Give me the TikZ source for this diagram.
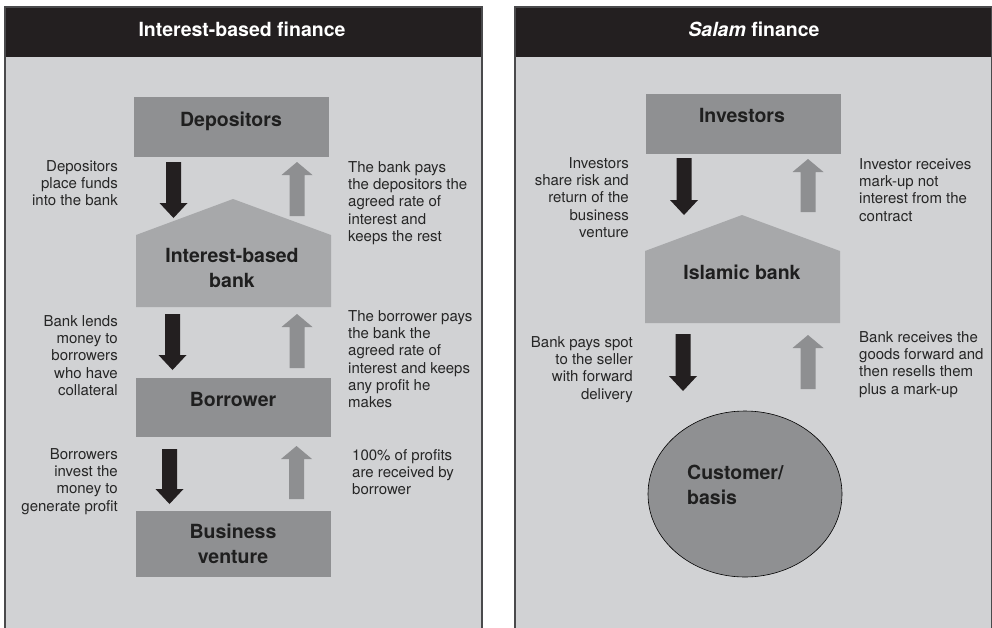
\documentclass[tikz,border=0pt]{standalone}
\usepackage{fontspec}
\setmainfont{TeX Gyre Heros}
\usetikzlibrary{shapes.geometric}
\definecolor{panelbg}{HTML}{D1D2D4}
\definecolor{headblk}{HTML}{231F20}
\definecolor{boxgray}{HTML}{8F9092}
\definecolor{bankgray}{HTML}{A7A8AA}
\definecolor{upgray}{HTML}{8E8F91}
\definecolor{frameline}{HTML}{4A4A4C}
\newcommand\dnarr[3]{\fill[headblk] (#1-7.5,#2) -- (#1+7.5,#2) -- (#1+7.5,#3-15) -- (#1+14,#3-15) -- (#1,#3) -- (#1-14,#3-15) -- (#1-7.5,#3-15) -- cycle;}
\newcommand\uparr[3]{\fill[upgray] (#1-7.5,#3) -- (#1+7.5,#3) -- (#1+7.5,#2+13) -- (#1+15.5,#2+13) -- (#1,#2) -- (#1-15.5,#2+13) -- (#1-7.5,#2+13) -- cycle;}
\tikzset{
  body/.style={font=\fontsize{15}{17.3}\selectfont, inner sep=0pt, text=black!85},
  lefttxt/.style={body, align=right, anchor=north east},
  righttxt/.style={body, align=left, anchor=north west},
  lbl/.style={font=\fontsize{19.5}{25}\selectfont\bfseries, inner sep=0pt, text=black!88},
  boxn/.style={fill=boxgray, inner sep=0pt, minimum width=195pt},
  headtxt/.style={font=\fontsize{19.5}{24}\selectfont\bfseries, text=white, inner sep=0pt, anchor=base},
}
\begin{document}
\begin{tikzpicture}[x=1pt,y=-1pt]
\useasboundingbox (0,0) rectangle (992,627);
\fill[white] (0,0) rectangle (992,627);
% panels
\fill[panelbg] (5,7) rectangle (482,640);
\fill[headblk] (5,7) rectangle (482,57);
\draw[frameline, line width=1.5pt] (5,640) -- (5,7) -- (482,7) -- (482,640);
\fill[panelbg] (515,7) rectangle (992,640);
\fill[headblk] (515,7) rectangle (992,57);
\draw[frameline, line width=1.5pt] (515,640) -- (515,7) -- (991.5,7) -- (991.5,640);
\node[headtxt] (h1) at (242,36) {Interest-based finance};
\node[headtxt] (h2) at (754,36) {\textit{Salam} finance};
% left column
\node[boxn, minimum height=60pt] (dep) at (231.5,127) {};
\node[lbl, anchor=base] (depl) at (231,126) {Depositors};
\fill[bankgray] (233,199) -- (331,235) -- (331,307) -- (136,307) -- (136,235) -- cycle;
\coordinate (bank) at (233,260);
\node[lbl, align=center, anchor=north] (bankl) at (232,248) {Interest-based\\bank};
\node[boxn, minimum height=59pt] (bor) at (233.5,407.5) {};
\node[lbl, anchor=base] (borl) at (233,406) {Borrower};
\node[boxn, minimum height=66pt] (bus) at (233.5,544) {};
\node[lbl, align=center, anchor=north] (busl) at (233,524) {Business\\venture};
\dnarr{173.5}{162}{218}
\uparr{297}{162}{216}
\dnarr{172.5}{314}{370}
\uparr{297}{314}{368}
\dnarr{169.5}{449}{504}
\uparr{296.5}{446}{499}
\node[lefttxt] (t1) at (118,160) {Depositors\\place funds\\into the bank};
\node[righttxt] (t2) at (348,161) {The bank pays\\the depositors the\\agreed rate of\\interest and\\keeps the rest};
\node[lefttxt] (t3) at (118,315) {Bank lends\\money to\\borrowers\\who have\\collateral};
\node[righttxt] (t4) at (348,310) {The borrower pays\\the bank the\\agreed rate of\\interest and keeps\\any profit he\\makes};
\node[lefttxt] (t5) at (118,448) {Borrowers\\invest the\\money to\\generate profit};
\node[righttxt] (t6) at (352,449) {100\% of profits\\are received by\\borrower};
% right column
\node[boxn, minimum height=60pt] (inv) at (743.5,124) {};
\node[lbl, anchor=base] (invl) at (742,122) {Investors};
\fill[bankgray] (742,215) -- (840,251) -- (840,323) -- (645,323) -- (645,251) -- cycle;
\node[lbl, anchor=base] (isl) at (742,279) {Islamic bank};
\node[ellipse, draw=black, line width=0.6pt, fill=boxgray, minimum width=194pt, minimum height=166pt, inner sep=0pt] (cust) at (745,494) {};
\node[lbl, align=left, anchor=north west] (custl) at (687,465) {Customer/\\basis};
\dnarr{684}{158}{215}
\uparr{808}{159}{212}
\dnarr{683}{334}{391}
\uparr{808}{335}{389}
\node[lefttxt] (t7) at (629,157) {Investors\\share risk and\\return of the\\business\\venture};
\node[righttxt] (t8) at (859,158) {Investor receives\\mark-up not\\interest from the\\contract};
\node[lefttxt] (t9) at (633,336) {Bank pays spot\\to the seller\\with forward\\delivery};
\node[righttxt] (t10) at (859,331) {Bank receives the\\goods forward and\\then resells them\\plus a mark-up};
\end{tikzpicture}
\end{document}
